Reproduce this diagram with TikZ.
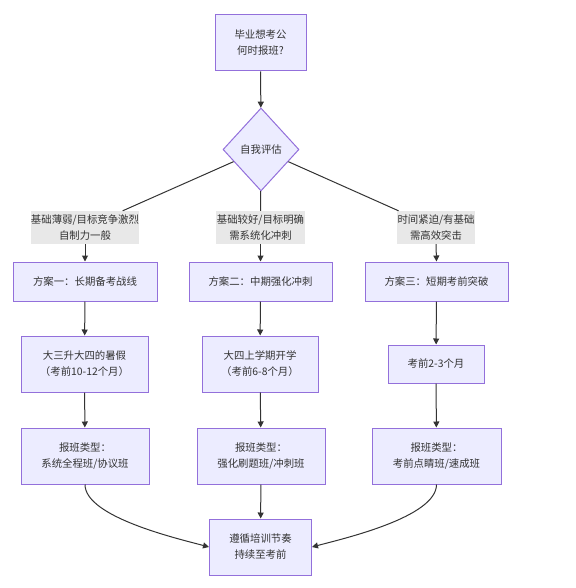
\documentclass[tikz,border=0pt]{standalone}
\usepackage{fontspec}
\setmainfont{Noto Sans CJK SC}
\usetikzlibrary{arrows.meta,shapes.geometric}
\definecolor{boxfill}{HTML}{ECECFF}
\definecolor{boxline}{HTML}{9370DB}
\definecolor{edgecol}{HTML}{333333}
\definecolor{txt}{HTML}{333333}
\definecolor{lblbg}{HTML}{E8E8E8}
\begin{document}
\begin{tikzpicture}[x=1pt,y=1pt,
  every node/.style={font=\fontsize{10.4pt}{16pt}\selectfont, text=txt, align=center, inner sep=0pt},
  box/.style={draw=boxline, fill=boxfill, line width=1pt, rectangle},
  dia/.style={draw=boxline, fill=boxfill, line width=1pt, diamond, minimum width=76pt, minimum height=83pt},
  lbl/.style={fill=lblbg, minimum height=33pt},
  edge/.style={draw=edgecol, line width=1pt},
  arr/.style={edge, -{Triangle[length=6pt,width=6pt]}}
]
\useasboundingbox (0,0) rectangle (575,-588);
% nodes
\node[box, minimum width=91pt, minimum height=56pt] (top) at (260.5,-43) {毕业想考公\\何时报班?};
\node[dia] (d) at (261,-149.5) {自我评估};

\node[box, minimum width=144pt, minimum height=39pt] (p1) at (85,-281.5) {方案一：长期备考战线};
\node[box, minimum width=143pt, minimum height=39pt] (p2) at (260.5,-281.5) {方案二：中期强化冲刺};
\node[box, minimum width=143pt, minimum height=39pt] (p3) at (436.5,-281.5) {方案三：短期考前突破};

\node[box, minimum width=127pt, minimum height=56pt] (t1) at (84.5,-364) {大三升大四的暑假\\（考前10-12个月）};
\node[box, minimum width=116pt, minimum height=56pt] (t2) at (260,-364) {大四上学期开学\\（考前6-8个月）};
\node[box, minimum width=96pt, minimum height=38pt] (t3) at (436,-364) {考前2-3个月};

\node[box, minimum width=128pt, minimum height=56pt] (c1) at (85,-456) {报班类型：\\系统全程班/协议班};
\node[box, minimum width=128pt, minimum height=56pt] (c2) at (261,-456) {报班类型：\\强化刷题班/冲刺班};
\node[box, minimum width=129pt, minimum height=56pt] (c3) at (436.5,-456) {报班类型：\\考前点睛班/速成班};

\node[box, minimum width=102pt, minimum height=56pt] (f) at (260.5,-547) {遵循培训节奏\\持续至考前};

% edge labels
\node[lbl, minimum width=108pt] (l1) at (85,-227.5) {基础薄弱/目标竞争激烈\\自制力一般};
\node[lbl, minimum width=89pt] (l2) at (260.5,-227.5) {基础较好/目标明确\\需系统化冲刺};
\node[lbl, minimum width=78pt] (l3) at (436,-227.5) {时间紧迫/有基础\\需高效突击};

% edges
\draw[arr] (top) -- (d);
\draw[edge] (d) -- (l1);
\draw[edge] (d) -- (l2);
\draw[edge] (d) -- (l3);
\draw[arr] (l1.south) -- (p1.north);
\draw[arr] (l2) -- (p2);
\draw[arr] (l3.south) -- (p3.north);
\draw[arr] (p1) -- (t1);
\draw[arr] (p2) -- (t2);
\draw[arr] (p3) -- (t3);
\draw[arr] (t1) -- (c1);
\draw[arr] (t2) -- (c2);
\draw[arr] (t3) -- (c3);
\draw[arr] (c1.south) to[out=-90,in=165,looseness=0.6] (f.west);
\draw[arr] (c2) -- (f);
\draw[arr] (c3.south) to[out=-90,in=15,looseness=0.6] (f.east);
\end{tikzpicture}
\end{document}
